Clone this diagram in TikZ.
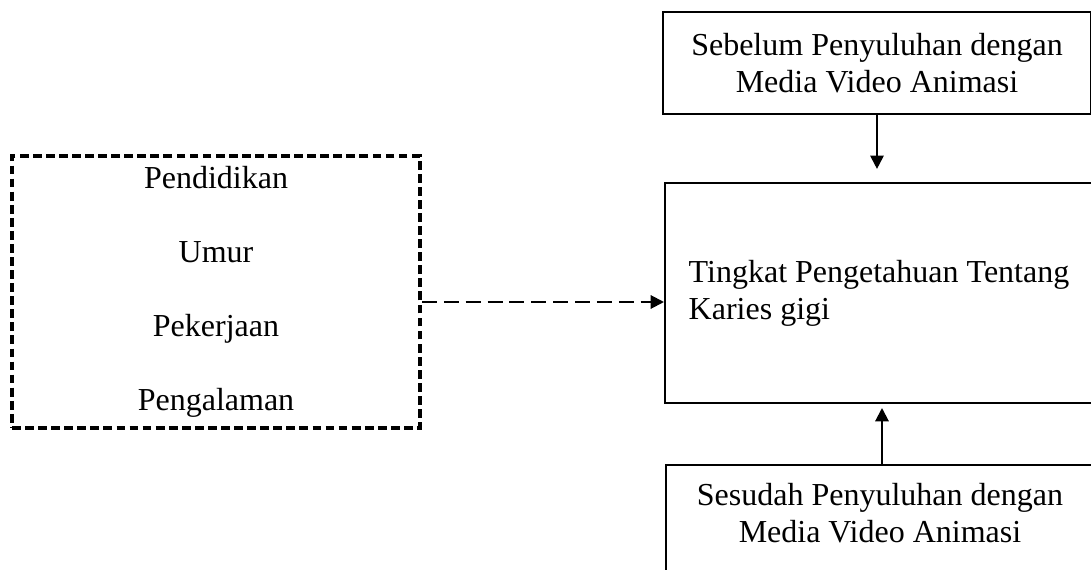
\documentclass[tikz,border=0pt]{standalone}
\usepackage{fontspec}
\setmainfont{Liberation Serif}
\usetikzlibrary{arrows.meta,shapes}

\begin{document}
\begin{tikzpicture}[x=0.375pt, y=-0.375pt,
  font=\fontsize{12}{13.8}\selectfont,
  box/.style={draw, line width=0.75pt, rectangle, minimum width=160.5pt, inner sep=0pt},
  faktorbox/.style={draw, line width=1.5pt, dash pattern=on 3.3pt off 1.6pt, rectangle,
    minimum width=153pt, minimum height=102pt, align=center},
  panah/.style={line width=0.75pt, -{Triangle[length=5pt,width=5pt]}},
  panahputus/.style={line width=0.75pt, dash pattern=on 5.6pt off 2.6pt, -{Triangle[length=5pt,width=5pt]}},
]

\clip (0,0) rectangle (1091,570);

\node[box, minimum height=38.25pt, align=center] (sebelum) at (877,63)
  {Sebelum Penyuluhan dengan\\Media Video Animasi};

\node[box, minimum height=82.5pt, align=left] (tingkat) at (879,293)
  {Tingkat Pengetahuan Tentang\\Karies gigi};

\node[box, minimum height=60pt, anchor=north] (sesudah) at (880,464) {};
\node[align=center] (sesudahteks) at (880,513)
  {Sesudah Penyuluhan dengan\\Media Video Animasi};

\node[faktorbox] (faktor) at (216,292)
  {Pendidikan\\[13.9pt] Umur\\[13.9pt] Pekerjaan\\[13.9pt] Pengalaman};

% panah
\draw[panah, shorten >=4.9pt] (sebelum.south) -- (sebelum.south |- tingkat.north);
\draw[panah, shorten >=1.5pt] ([xshift=0.75pt]sesudah.north) -- ([xshift=0.75pt]sesudah.north |- tingkat.south);
\draw[panahputus] ([yshift=-3.75pt]faktor.east) -- ([yshift=-3.75pt]faktor.east -| tingkat.west);

\end{tikzpicture}
\end{document}
